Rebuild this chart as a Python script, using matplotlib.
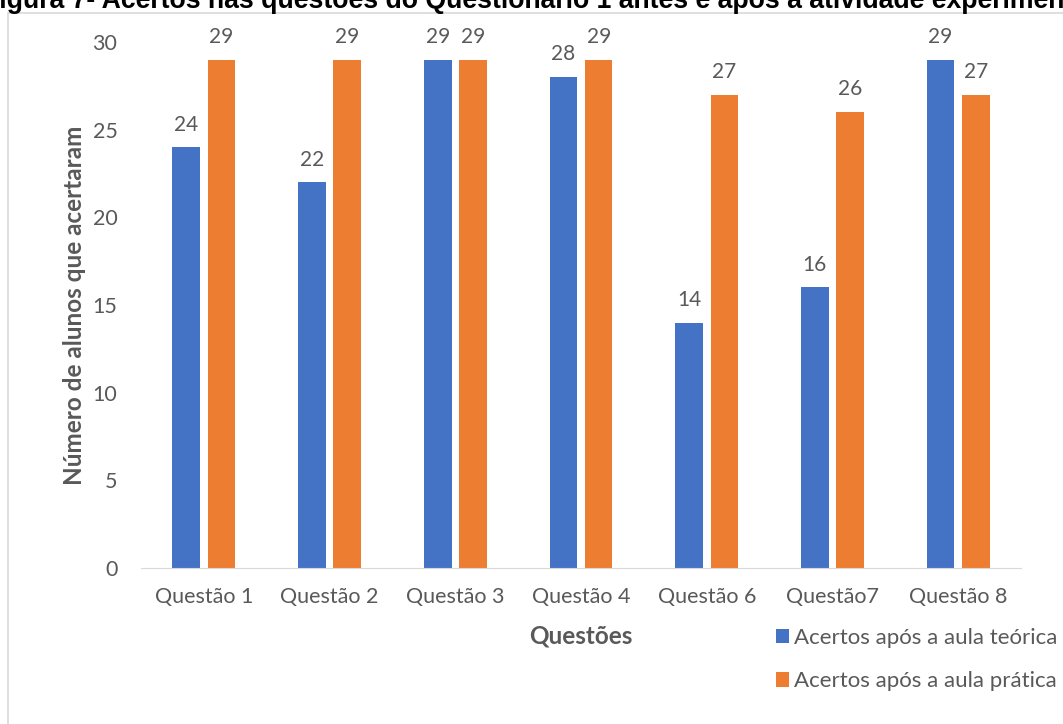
import matplotlib.pyplot as plt
import numpy as np
from matplotlib.patches import Rectangle

# dados
questoes = ['Questão 1', 'Questão 2', 'Questão 3', 'Questão 4', 'Questão 6', 'Questão7', 'Questão 8']
teorica = [24, 22, 29, 28, 14, 16, 29]
pratica = [29, 29, 29, 29, 27, 26, 27]

azul = '#4472C4'
laranja = '#ED7D31'
cinza = '#595959'

plt.rcParams['font.family'] = ['Lato', 'DejaVu Sans']

fig = plt.figure(figsize=(10.63, 7.24), dpi=100)
ax = fig.add_axes([0.1327, 0.2155, 0.8278, 0.7265])

x = np.arange(len(questoes))
w = 0.22
b1 = ax.bar(x - 0.14, teorica, width=w, color=azul, label='Acertos após a aula teórica')
b2 = ax.bar(x + 0.14, pratica, width=w, color=laranja, label='Acertos após a aula prática')

# rótulos de valor acima das barras
for bars in (b1, b2):
    for r in bars:
        ax.annotate(str(int(r.get_height())), (r.get_x() + r.get_width() / 2, r.get_height()),
                    xytext=(0, 12), textcoords='offset points', ha='center', va='baseline',
                    fontsize=15, color=cinza)

ax.set_xlim(-0.5, len(questoes) - 0.5)
ax.set_ylim(0, 30)
ax.set_yticks([0, 5, 10, 15, 20, 25, 30])
ax.set_xticks(x)
ax.set_xticklabels(questoes)
ax.tick_params(axis='both', length=0, labelsize=15.5, labelcolor=cinza)
ax.tick_params(axis='x', pad=14)
ax.tick_params(axis='y', pad=17)
for s in ['top', 'right', 'left']:
    ax.spines[s].set_visible(False)
ax.spines['bottom'].set_color('#d9d9d9')

ax.set_xlabel('Questões', fontsize=17.5, fontweight='bold', color=cinza, labelpad=12)
ax.set_ylabel('Número de alunos que acertaram', fontsize=17.5, fontweight='bold', color=cinza, labelpad=5)

fig.legend(handles=[b1, b2], loc='upper left', bbox_to_anchor=(776 / 1063, 1 - 628 / 724),
           frameon=False, fontsize=16, labelcolor=cinza, handlelength=0.6, handleheight=0.6,
           handletextpad=0.2, labelspacing=1.05, borderpad=0, borderaxespad=0)

# moldura do gráfico
fig.patches.append(Rectangle((8 / 1063, -0.1), 1.2, (724 - 13) / 724 + 0.1,
                             transform=fig.transFigure, fill=False, edgecolor='#d9d9d9', lw=1.2))

fig.text(-17 / 1063, 1 - 8 / 724, 'Figura 7- Acertos nas questões do Questionário 1 antes e após a atividade experimental',
         fontsize=19.2, fontweight='bold', family='Liberation Sans', ha='left', va='baseline')

fig.savefig('out.png', dpi=100)
